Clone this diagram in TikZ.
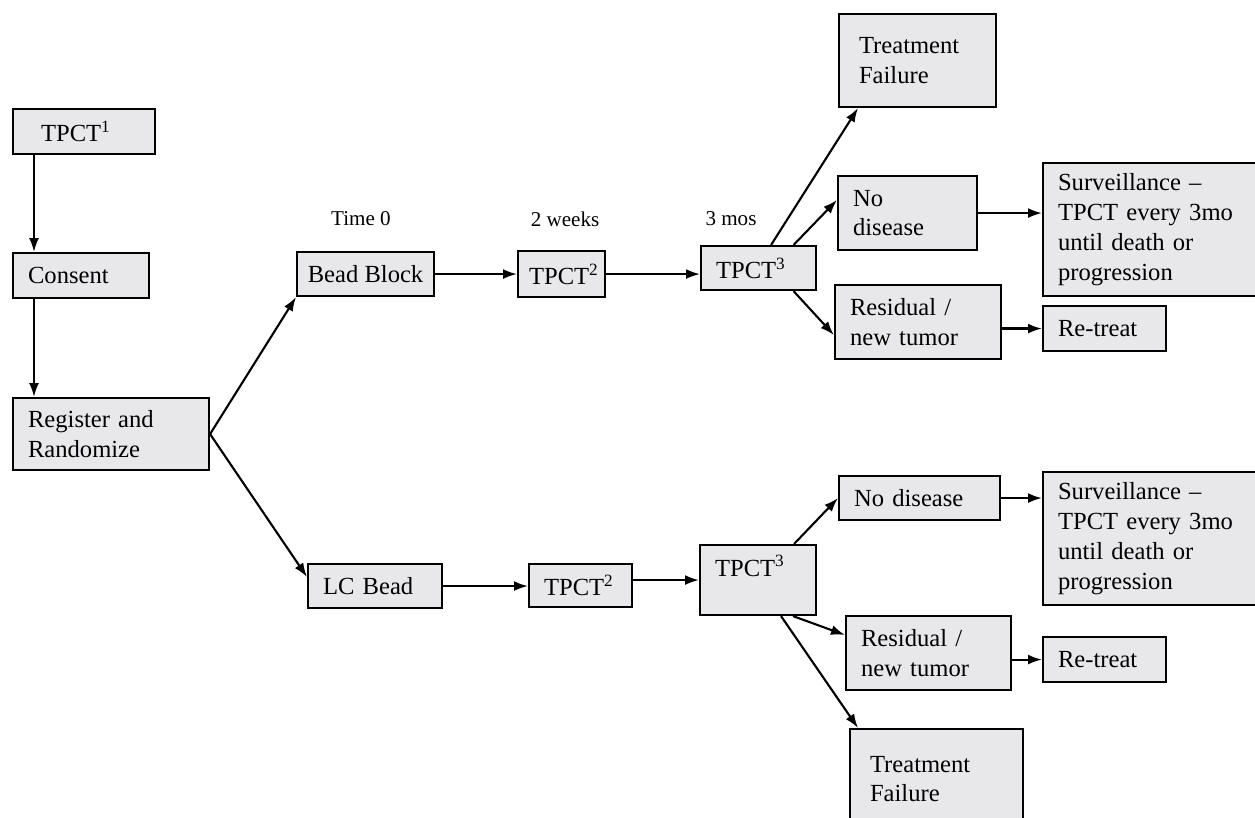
\documentclass[tikz,border=0pt]{standalone}
\usepackage{fontspec}
\setmainfont{Liberation Serif}
\usetikzlibrary{arrows.meta}
\definecolor{BoxClr}{rgb}{0.91,0.91,0.92}

\begin{document}
\begin{tikzpicture}[x=0.02cm,y=-0.02cm,>={Latex[length=.28cm,width=.2cm]},
  box/.style={draw,fill=BoxClr,line width=1.2pt,anchor=north west,inner xsep=.3cm,inner ysep=0pt,align=left,font=\fontsize{14}{17}\selectfont},
  lbl/.style={font=\fontsize{12}{14}\selectfont},
  arr/.style={->,line width=1.2pt}]
\useasboundingbox (0,0) rectangle (1255,818);

\node[box,inner xsep=.56cm,text width=1.72cm,minimum height=.9cm] (tpctI) at (12,108) {TPCT\textsuperscript{1}};
\node[box,text width=2.12cm,minimum height=.9cm] (consent) at (12,252) {Consent};
\node[box,text width=3.32cm,minimum height=1.44cm] (reg) at (12,397) {Register and\\Randomize};

\node[lbl] (time0) at (361,219) {Time 0};
\node[lbl] (weeks2) at (565,219) {2 weeks};
\node[lbl] (mos3) at (731,219) {3 mos};

\node[box,inner xsep=.2cm,minimum width=2.74cm,minimum height=.88cm] (bblock) at (296,251) {Bead Block};
\node[box,inner xsep=.22cm,text width=1.3cm,minimum height=.92cm] (tpctIIa) at (517,250) {TPCT\textsuperscript{2}};
\node[box,text width=1.7cm,minimum height=.88cm] (tpctIIIa) at (700,245) {TPCT\textsuperscript{3}};
\node[box,inner xsep=.4cm,text width=2.34cm,minimum height=1.86cm] (failA) at (838,13) {Treatment\\Failure};
\node[box,text width=2.18cm,minimum height=1.48cm] (nodisA) at (837,175) {No\\disease};
\node[box,text width=3.8cm,minimum height=2.66cm] (survA) at (1042,162) {Surveillance --\\TPCT every 3mo\\until death or\\progression};
\node[box,text width=2.72cm,minimum height=1.48cm] (resA) at (834,284) {Residual /\\new tumor};
\node[box,text width=1.86cm,minimum height=.9cm] (retreatA) at (1042,305) {Re-treat};

\node[box,text width=2.08cm,minimum height=.88cm] (lcbead) at (307,563) {LC Bead};
\node[box,text width=1.46cm,minimum height=.86cm] (tpctIIb) at (528,563) {TPCT\textsuperscript{2}};
\node[box,text width=1.72cm,text height=.62cm,text depth=.78cm] (tpctIIIb) at (699,544) {TPCT\textsuperscript{3}};
\node[box,text width=2.62cm,minimum height=.88cm] (nodisB) at (838,475) {No disease};
\node[box,text width=3.8cm,minimum height=2.66cm] (survB) at (1042,471) {Surveillance --\\TPCT every 3mo\\until death or\\progression};
\node[box,text width=2.7cm,minimum height=1.48cm] (resB) at (845,615) {Residual /\\new tumor};
\node[box,text width=1.86cm,minimum height=.9cm] (retreatB) at (1042,636) {Re-treat};
\node[box,inner xsep=.4cm,text width=2.66cm,minimum height=2cm] (failB) at (849,728) {Treatment\\Failure};

\draw[arr] ([xshift=.44cm]tpctI.south west) -- ([xshift=.44cm]consent.north west);
\draw[arr] ([xshift=.44cm]consent.south west) -- ([xshift=.44cm]reg.north west);
\draw[arr] (reg.east) -- (bblock.south west);
\draw[arr] (reg.east) -- ([yshift=-.28cm]lcbead.north west);

\draw[arr] (bblock.east) -- (bblock.east -| tpctIIa.west);
\draw[arr] (tpctIIa.east) -- (tpctIIa.east -| tpctIIIa.west);
\draw[arr] ([xshift=.25cm]tpctIIIa.north) -- ([xshift=.4cm]failA.south west);
\draw[arr] ([xshift=.7cm]tpctIIIa.north) -- ([yshift=-.5cm]nodisA.north west);
\draw[arr] ([xshift=.7cm]tpctIIIa.south) -- ([yshift=.5cm]resA.south west);
\draw[arr] (nodisA.east) -- (nodisA.east -| survA.west);
\draw[arr] (resA.east |- retreatA.west) -- (retreatA.west);

\draw[arr] (lcbead.east) -- (lcbead.east -| tpctIIb.west);
\draw[arr] (tpctIIb.east |- tpctIIIb.west) -- (tpctIIIb.west);
\draw[arr] ([xshift=.72cm]tpctIIIb.north) -- (nodisB.west);
\draw[arr] ([xshift=.7cm]tpctIIIb.south) -- ([yshift=-.4cm]resB.north west);
\draw[arr] ([xshift=.46cm]tpctIIIb.south) -- ([xshift=.18cm]failB.north west);
\draw[arr] (nodisB.east) -- (nodisB.east -| survB.west);
\draw[arr] (resB.east |- retreatB.west) -- (retreatB.west);

\end{tikzpicture}
\end{document}
